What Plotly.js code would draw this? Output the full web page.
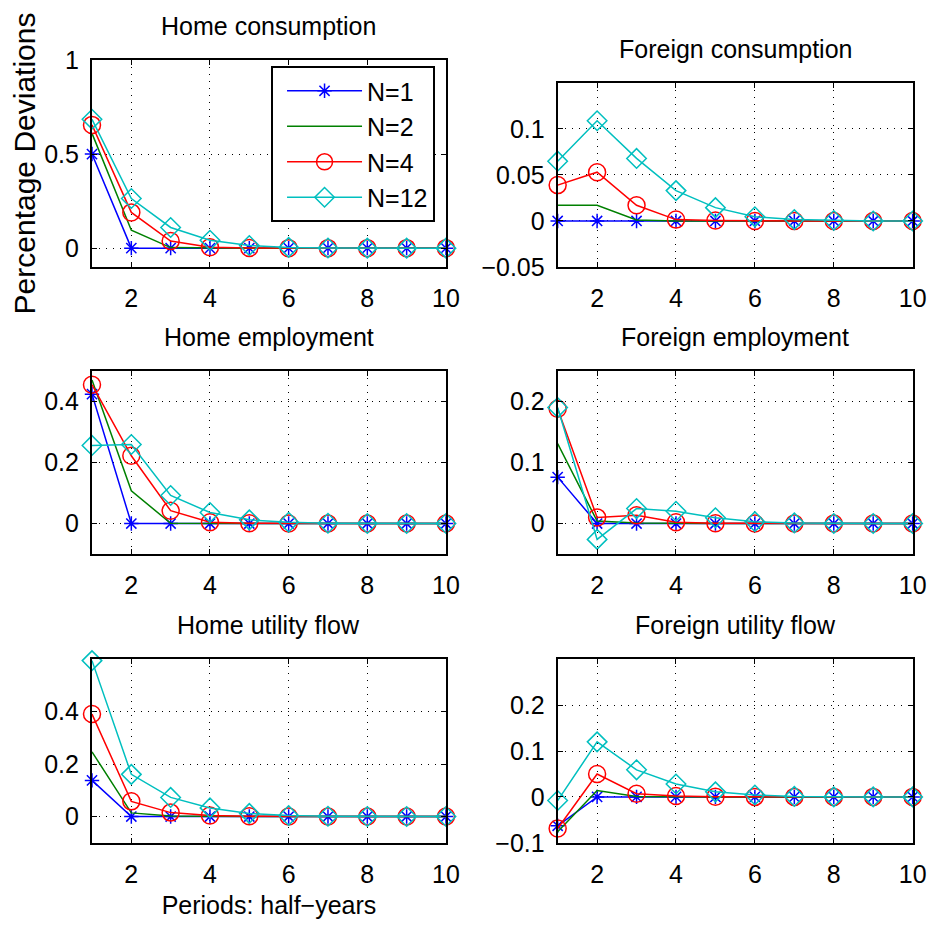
<!DOCTYPE html>
<html>
<head>
<meta charset="utf-8">
<script src="https://cdn.plot.ly/plotly-3.0.1.min.js"></script>
<style>html,body{margin:0;padding:0;background:#fff;}#chart{width:933px;height:926px;}</style>
</head>
<body>
<div id="chart"></div>
<script>
// Periods (half-years)
const periods = [1, 2, 3, 4, 5, 6, 7, 8, 9, 10];
const seriesNames = ["N=1", "N=2", "N=4", "N=12"];
const xTickVals = [2, 4, 6, 8, 10];

// Home consumption
const homeCons_N1  = [0.500, 0, 0, 0, 0, 0, 0, 0, 0, 0];
const homeCons_N2  = [0.610, 0.095, 0.003, 0, 0, 0, 0, 0, 0, 0];
const homeCons_N4  = [0.655, 0.190, 0.038, 0.005, 0.001, 0, 0, 0, 0, 0];
const homeCons_N12 = [0.685, 0.264, 0.110, 0.042, 0.014, 0.004, 0.001, 0, 0, 0];

// Foreign consumption
const forCons_N1  = [0, 0, 0, 0, 0, 0, 0, 0, 0, 0];
const forCons_N2  = [0.017, 0.017, 0.001, 0, 0, 0, 0, 0, 0, 0];
const forCons_N4  = [0.039, 0.053, 0.017, 0.0015, 0.0005, 0, 0, 0, 0, 0];
const forCons_N12 = [0.065, 0.109, 0.068, 0.033, 0.0145, 0.0045, 0.0015, 0.0005, 0, 0];

// Home employment
const homeEmp_N1  = [0.424, 0, 0, 0, 0, 0, 0, 0, 0, 0];
const homeEmp_N2  = [0.470, 0.107, 0.001, 0, 0, 0, 0, 0, 0, 0];
const homeEmp_N4  = [0.455, 0.222, 0.042, 0.004, 0.001, 0, 0, 0, 0, 0];
const homeEmp_N12 = [0.256, 0.259, 0.092, 0.036, 0.012, 0.004, 0.001, 0, 0, 0];

// Foreign employment
const forEmp_N1  = [0.076, 0, 0, 0, 0, 0, 0, 0, 0, 0];
const forEmp_N2  = [0.131, 0.004, 0.001, 0, 0, 0, 0, 0, 0, 0];
const forEmp_N4  = [0.188, 0.010, 0.0135, 0.002, 0.0005, 0, 0, 0, 0, 0];
const forEmp_N12 = [0.190, -0.026, 0.0245, 0.020, 0.0095, 0.003, 0.001, 0, 0, 0];

// Home utility flow
const homeUtil_N1  = [0.138, 0, 0, 0, 0, 0, 0, 0, 0, 0];
const homeUtil_N2  = [0.247, 0.014, 0.002, 0, 0, 0, 0, 0, 0, 0];
const homeUtil_N4  = [0.391, 0.058, 0.015, 0.004, 0.001, 0, 0, 0, 0, 0];
const homeUtil_N12 = [0.595, 0.161, 0.073, 0.033, 0.012, 0.004, 0.001, 0, 0, 0];

// Foreign utility flow
const forUtil_N1  = [-0.063, 0, 0, 0, 0, 0, 0, 0, 0, 0];
const forUtil_N2  = [-0.076, 0.014, 0.001, 0, 0, 0, 0, 0, 0, 0];
const forUtil_N4  = [-0.069, 0.050, 0.007, 0.002, 0.0005, 0, 0, 0, 0, 0];
const forUtil_N12 = [-0.008, 0.120, 0.059, 0.028, 0.011, 0.004, 0.001, 0, 0, 0];

// Panel titles and y ticks
const panelTitles = ["Home consumption", "Foreign consumption", "Home employment",
                     "Foreign employment", "Home utility flow", "Foreign utility flow"];
const yRanges = [[-0.1, 1], [-0.05, 0.15], [-0.1, 0.5], [-0.05, 0.25], [-0.1, 0.6], [-0.1, 0.3]];
const yTickVals = [[0, 0.5, 1], [-0.05, 0, 0.05, 0.1], [0, 0.2, 0.4], [0, 0.1, 0.2], [0, 0.2, 0.4], [-0.1, 0, 0.1, 0.2]];
const yTickText = [["0", "0.5", "1"], ["\u22120.05", "0", "0.05", "0.1"], ["0", "0.2", "0.4"], ["0", "0.1", "0.2"], ["0", "0.2", "0.4"], ["\u22120.1", "0", "0.1", "0.2"]];

const panels = [
  [homeCons_N1, homeCons_N2, homeCons_N4, homeCons_N12],
  [forCons_N1, forCons_N2, forCons_N4, forCons_N12],
  [homeEmp_N1, homeEmp_N2, homeEmp_N4, homeEmp_N12],
  [forEmp_N1, forEmp_N2, forEmp_N4, forEmp_N12],
  [homeUtil_N1, homeUtil_N2, homeUtil_N4, homeUtil_N12],
  [forUtil_N1, forUtil_N2, forUtil_N4, forUtil_N12]
];

const styles = [
  {color: "rgb(0,0,255)", mode: "lines+markers", symbol: "asterisk-open", size: 12},
  {color: "rgb(0,128,0)", mode: "lines", symbol: "circle", size: 1},
  {color: "rgb(255,0,0)", mode: "lines+markers", symbol: "circle-open", size: 17},
  {color: "rgb(0,191,191)", mode: "lines+markers", symbol: "diamond-open", size: 15}
];

const xDomains = [[0.0986, 0.478], [0.5977, 0.9782]];
const yDomains = [[0.7117, 0.9352], [0.7117, 0.9104], [0.4017, 0.5994], [0.4017, 0.5994], [0.0899, 0.288], [0.0899, 0.288]];

const FONT = "Liberation Sans, Arial, Helvetica, sans-serif";
const traces = [];
const layout = {
  width: 933, height: 926,
  margin: {l: 0, r: 0, t: 0, b: 0},
  paper_bgcolor: "#fff", plot_bgcolor: "#fff",
  font: {family: FONT, size: 25, color: "#000"},
  showlegend: true,
  legend: {
    x: 0.2905, y: 0.9287, xanchor: "left", yanchor: "top",
    bgcolor: "#fff", bordercolor: "#000", borderwidth: 2,
    font: {family: FONT, size: 25, color: "#000"},
    itemwidth: 75, indentation: 9, tracegroupgap: 0
  },
  annotations: []
};

panels.forEach((series, p) => {
  const ax = p === 0 ? "" : String(p + 1);
  series.forEach((vals, s) => {
    const st = styles[s];
    traces.push({
      type: "scatter", x: periods, y: vals,
      xaxis: "x" + ax, yaxis: "y" + ax,
      mode: st.mode, name: seriesNames[s], showlegend: p === 0,
      legendgroup: seriesNames[s],
      cliponaxis: false,
      line: {color: st.color, width: 1.5},
      marker: {symbol: st.symbol, size: st.size, color: st.color, line: {color: st.color, width: 1.5}}
    });
  });
  const col = p % 2;
  const common = {
    showline: true, linecolor: "#000", linewidth: 2, mirror: "ticks",
    ticks: "inside", ticklen: 5, tickwidth: 1, tickcolor: "#000",
    showgrid: true, gridcolor: "#000", gridwidth: 1, griddash: "1px,6px",
    zeroline: false, fixedrange: true,
    tickfont: {family: FONT, size: 25, color: "#000"}
  };
  layout["xaxis" + ax] = Object.assign({}, common, {
    domain: xDomains[col], anchor: "y" + ax, range: [1, 10],
    tickmode: "array", tickvals: xTickVals, ticktext: xTickVals.map(String),
    ticklabelstandoff: 8
  });
  layout["yaxis" + ax] = Object.assign({}, common, {
    domain: yDomains[p], anchor: "x" + ax, range: yRanges[p],
    tickmode: "array", tickvals: yTickVals[p], ticktext: yTickText[p],
    ticklabelstandoff: 6
  });
  layout.annotations.push({
    text: panelTitles[p], xref: "paper", yref: "paper",
    x: (xDomains[col][0] + xDomains[col][1]) / 2, y: yDomains[p][1],
    xanchor: "center", yanchor: "bottom", yshift: 18, showarrow: false,
    font: {family: FONT, size: 25, color: "#000"}
  });
});

layout.yaxis.title = {text: "Percentage Deviations", font: {family: FONT, size: 30, color: "#000"}, standoff: 0};
layout.xaxis5.title = {text: "Periods: half\u2212years", font: {family: FONT, size: 25, color: "#000"}, standoff: 10};

Plotly.newPlot("chart", traces, layout, {staticPlot: true, displayModeBar: false});
</script>
</body>
</html>
